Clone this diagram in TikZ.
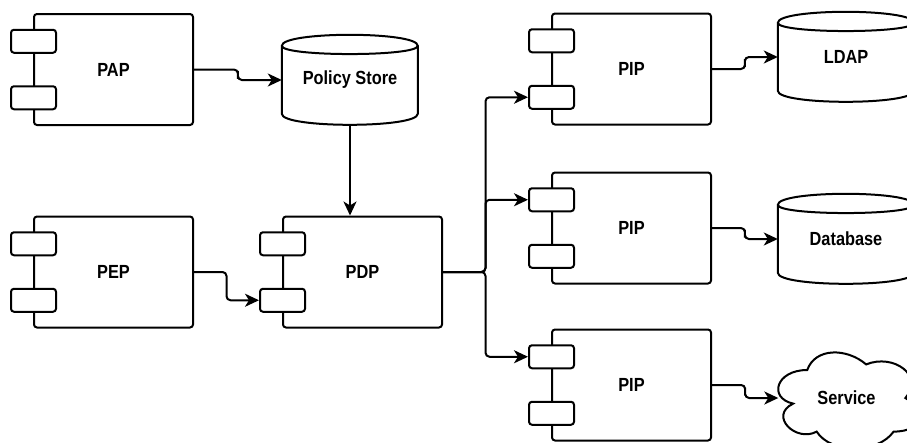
\documentclass[tikz,border=0pt]{standalone}
\usepackage{fontspec}
\setmainfont{Liberation Sans}[FakeStretch=0.86]
\usetikzlibrary{arrows.meta,calc}
\newcommand\lblfont{\fontsize{19}{22}\selectfont\bfseries}
\tikzset{
  comp/.style={draw, line width=2pt, rounded corners=3pt, minimum width=159pt,
    minimum height=111pt, inner sep=0pt, font=\lblfont},
  port/.style={draw, fill=white, line width=2pt, rounded corners=3pt,
    minimum width=45pt, minimum height=23pt, inner sep=0pt},
  store/.style={inner sep=0pt, minimum width=136pt, minimum height=90pt, font=\lblfont},
  outline/.style={line width=2pt},
  conn/.style={line width=2pt, rounded corners=4pt,
    -{Stealth[length=14pt,width=13pt,inset=4pt]}}
}
\newcommand\addports[1]{%
  \node[port] (#1a) at ($(#1.north west)!0.25!(#1.south west)+(0.5,0)$) {};
  \node[port] (#1b) at ($(#1.north west)!0.75!(#1.south west)+(0.5,0)$) {};
}
\newcommand\drawcyl[1]{%
  \begin{scope}[shift={(#1.north west)}]
    \draw[outline] (0,11) .. controls (0,-3.67) and (136,-3.67) .. (136,11)
      -- (136,79) .. controls (136,93.67) and (0,93.67) .. (0,79) -- cycle;
    \draw[outline] (0,11) .. controls (0,22) and (136,22) .. (136,11);
  \end{scope}}
\begin{document}
\begin{tikzpicture}[x=1pt,y=-1pt]
\useasboundingbox (0,0) rectangle (907,442);
% components
\node[comp] (pap) at (113.5,69.5) {PAP};
\node[comp] (pep) at (113.5,272) {PEP};
\node[comp] (pdp) at (362.5,272) {PDP};
\node[comp] (pipA) at (631.5,69) {PIP};
\node[comp] (pipB) at (631.5,228) {PIP};
\node[comp] (pipC) at (631.5,385) {PIP};
\addports{pap}
\addports{pep}
\addports{pdp}
\addports{pipA}
\addports{pipB}
\addports{pipC}
% stores
\node[store] (ps) at (350,80) {Policy Store};
\drawcyl{ps}
\node[store] (ldap) at (846,57) {LDAP};
\drawcyl{ldap}
\node[store] (db) at (846,239) {Database};
\drawcyl{db}
% cloud
\node[store] (svc) at (846.5,398) {Service};
\begin{scope}[shift={($(svc.center)+(-78.5,-56)$)}]
  \draw[outline] (39.25,28) .. controls (7.85,28) and (0,56) .. (25.12,61.6)
    .. controls (0,73.92) and (28.26,100.8) .. (48.67,89.6)
    .. controls (62.8,112) and (109.9,112) .. (125.6,89.6)
    .. controls (157,89.6) and (157,67.2) .. (137.375,56)
    .. controls (157,33.6) and (125.6,11.2) .. (98.125,22.4)
    .. controls (78.5,5.6) and (47.1,5.6) .. (39.25,28) -- cycle;
\end{scope}
% connectors
\draw[conn] (pap.east) -| ($(pap.east)!0.5!(ps.west)$) |- (ps.west);
\draw[conn] (ps.south) -- (ps.south |- pdp.north);
\draw[conn] (pep.east) -| ($(pep.east)!0.5!(pdpb.west)$) |- (pdpb.west);
\draw[conn] (pdp.east) -| ($(pdp.east)!0.5!(pipAb.west)$) |- (pipAb.west);
\draw[conn] (pdp.east) -| ($(pdp.east)!0.5!(pipBa.west)$) |- (pipBa.west);
\draw[conn] (pdp.east) -| ($(pdp.east)!0.5!(pipCa.west)$) |- (pipCa.west);
\draw[conn] (pipA.east) -| ($(pipA.east)!0.5!(ldap.west)$) |- (ldap.west);
\draw[conn] (pipB.east) -| ($(pipB.east)!0.5!(db.west)$) |- (db.west);
\draw[conn] (pipC.east) -| ($(pipC.east)!0.5!(svc.west)$) |- (svc.west);
\end{tikzpicture}
\end{document}
